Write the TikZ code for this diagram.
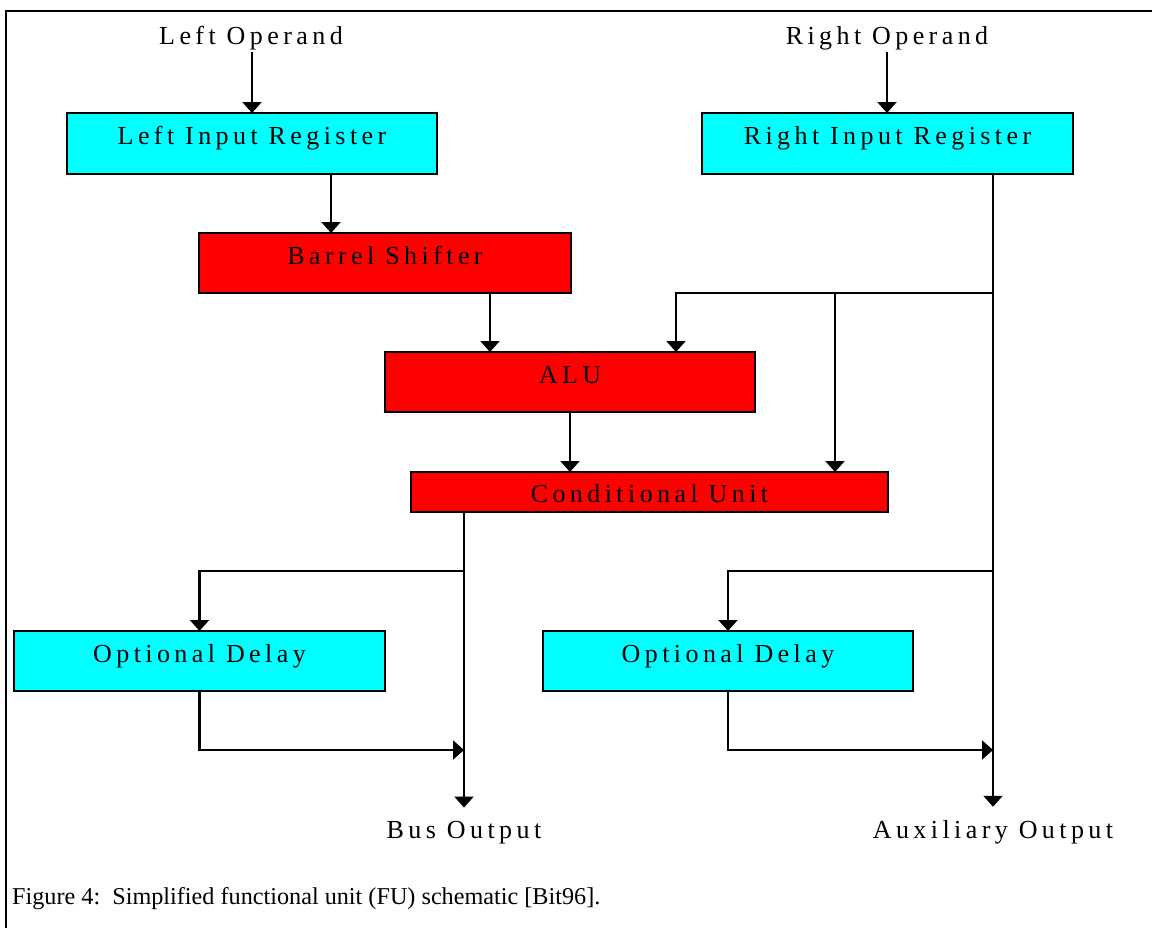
\documentclass[tikz,border=0pt]{standalone}
\usepackage{fontspec}
\setmainfont{Liberation Serif}
\newfontfamily\trackedfont[LetterSpace=17]{Liberation Serif}
\usetikzlibrary{arrows.meta}
\definecolor{regcyan}{RGB}{0,255,255}
\definecolor{unitred}{RGB}{255,0,0}
\begin{document}
\begin{tikzpicture}[x=1pt,y=-1pt,
  box/.style={draw=black,line width=2.2pt,inner sep=0pt,outer sep=0pt,
    minimum height=60pt,text height=31pt,text depth=29pt,
    font=\trackedfont\fontsize{26}{30}\selectfont},
  regbox/.style={box,fill=regcyan},
  unitbox/.style={box,fill=unitred},
  lbl/.style={inner sep=2pt,font=\trackedfont\fontsize{26}{30}\selectfont},
  outlbl/.style={lbl,inner ysep=13pt},
  arr/.style={line width=2.2pt,-{Triangle[width=19pt,length=11pt]}}]
\useasboundingbox (0,0) rectangle (1152,927);

% frame
\draw[line width=2.5pt] (6,940) -- (6,11) -- (1160,11);

% blocks
\node[regbox,minimum width=370pt,minimum height=61pt,text depth=30pt] (lir) at (252,143.5) {Left Input Register};
\node[regbox,minimum width=371pt,minimum height=61pt,text depth=30pt] (rir) at (887.5,143.5) {Right Input Register};
\node[unitbox,minimum width=372pt] (bs) at (385,263) {Barrel Shifter};
\node[unitbox,minimum width=370pt] (alu) at (570,382) {ALU};
\node[unitbox,minimum width=477pt,minimum height=40pt,text height=30pt,text depth=10pt] (cu) at (649.5,492) {Conditional Unit};
\node[regbox,minimum width=371pt] (od1) at (199.5,661) {Optional Delay};
\node[regbox,minimum width=370pt] (od2) at (728,661) {Optional Delay};

% inputs and outputs
\node[lbl,anchor=base] (lop) at (251,44) {Left Operand};
\node[lbl,anchor=base] (rop) at (887,44) {Right Operand};
\node[outlbl,anchor=base] (bus) at (464,838) {Bus Output};
\node[outlbl,anchor=base] (aux) at (993,838) {Auxiliary Output};

% routing columns and rows
\coordinate (xa) at (331,0);
\coordinate (xb) at (490,0);
\coordinate (xalu) at (676,0);
\coordinate (xcu) at (835,0);
\coordinate (ysplit) at (0,571);
\coordinate (ymerge) at (0,750);

% connectors
\draw[arr] (lop.south -| lir.north) -- (lir.north);
\draw[arr] (rop.south) -- (rop.south |- rir.north);
\draw[arr] (lir.south -| xa) -- (bs.north -| xa);
\draw[arr] (bs.south -| xb) -- (alu.north -| xb);
\draw[arr] (alu.south) -- (cu.north -| alu.south);
\draw[arr] (rir.south -| aux) -- (aux.north);
\draw[arr] (bs.south -| aux) -| (alu.north -| xalu);
\draw[arr] (bs.south -| xcu) -- (cu.north -| xcu);
\draw[arr] (cu.south -| bus) -- (bus.north);
\draw[arr] (ysplit -| bus) -| (od1.north);
\draw[arr] (ysplit -| aux) -| (od2.north);
\draw[arr] (od1.south) |- (ymerge -| bus);
\draw[arr] (od2.south) |- (ymerge -| aux);

% caption
\node[anchor=base west,inner sep=0pt,font=\fontsize{24.2}{28}\selectfont] (cap) at (12,904)
  {Figure 4:\ \ Simplified functional unit (FU) schematic [Bit96].};
\end{tikzpicture}
\end{document}
